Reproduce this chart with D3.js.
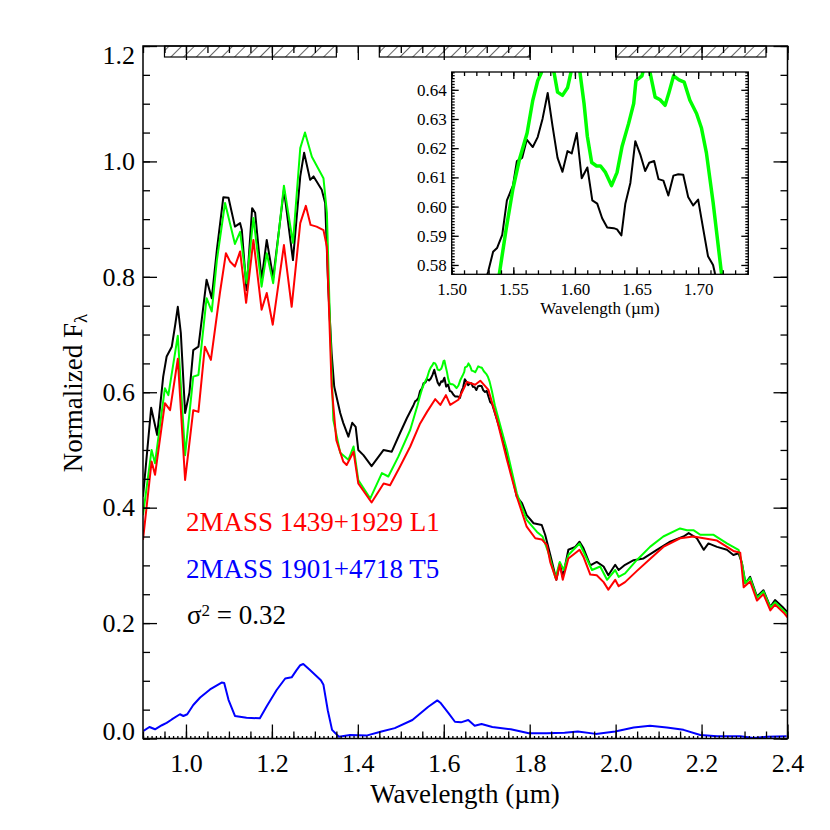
<!DOCTYPE html>
<html>
<head>
<meta charset="utf-8">
<script src="https://cdn.jsdelivr.net/npm/d3@7"></script>
<style>
    body { margin: 0; background: #fff; }
    text { font-family: "Liberation Serif", "Times New Roman", "DejaVu Serif", serif; }
</style>
</head>
<body>
<div id="spectrum-chart"></div>
<script>
/* * * * * * * * * * * * * * * *
 *   Spectral template fit     *
 * * * * * * * * * * * * * * * */

// target spectrum (black)
const blackWave = [0.900,0.919,0.933,0.947,0.955,0.967,0.975,0.981,0.988,0.998,1.008,1.017,1.029,1.033,1.048,1.060,1.072,1.087,1.099,1.114,1.126,1.130,1.141,1.154,1.161,1.176,1.188,1.203,1.228,1.249,1.266,1.275,1.289,1.297,1.316,1.324,1.331,1.339,1.345,1.359,1.366,1.378,1.387,1.395,1.401,1.413,1.432,1.460,1.479,1.498,1.514,
    1.5295,1.5336,1.5368,1.541,1.5448,1.5497,1.5529,1.5572,1.5609,1.5658,1.5698,1.5738,1.5779,1.5819,1.5859,1.5899,1.594,1.5974,1.6015,1.6055,1.6101,1.6141,1.6181,1.6221,1.6262,1.6315,1.6342,1.6377,1.6409,1.645,1.649,1.653,1.657,1.6603,1.6643,1.6678,1.6718,1.6758,1.6799,1.6839,1.6879,1.6919,1.696,1.700,1.704,1.708,1.7121,1.7134,
    1.731,1.754,1.770,1.782,1.793,1.809,1.828,1.836,1.848,1.862,1.870,1.877,1.890,1.906,1.916,1.925,1.941,1.956,1.972,1.983,1.999,2.007,2.022,2.042,2.065,2.096,2.127,2.158,2.170,2.189,2.205,2.216,2.236,2.259,2.274,2.286,2.294,2.302,2.313,2.329,2.344,2.360,2.371,2.391,2.400];
const blackFlux = [0.419,0.573,0.526,0.627,0.662,0.679,0.717,0.748,0.703,0.564,0.599,0.673,0.679,0.703,0.795,0.763,0.847,0.938,0.937,0.887,0.893,0.881,0.777,0.919,0.911,0.795,0.864,0.798,0.951,0.829,0.974,1.015,0.968,0.974,0.951,0.928,0.783,0.668,0.610,0.564,0.547,0.523,0.547,0.540,0.500,0.491,0.472,0.500,0.497,0.529,0.555,
    0.5776,0.5845,0.5858,0.5903,0.6021,0.6072,0.6156,0.6167,0.6229,0.6204,0.6238,0.6302,0.6389,0.6274,0.6167,0.6119,0.619,0.6182,0.6252,0.6097,0.6134,0.6021,0.601,0.596,0.5928,0.5926,0.5922,0.5901,0.601,0.6081,0.6224,0.6179,0.6122,0.615,0.6156,0.6094,0.6089,0.6038,0.6106,0.6111,0.6109,0.6033,0.6004,0.6024,0.5926,0.583,0.58,0.5776,
    0.535,0.471,0.419,0.408,0.387,0.373,0.370,0.353,0.318,0.275,0.304,0.280,0.327,0.332,0.341,0.330,0.300,0.306,0.298,0.283,0.301,0.292,0.301,0.309,0.312,0.327,0.341,0.350,0.356,0.347,0.327,0.338,0.332,0.327,0.318,0.321,0.304,0.269,0.280,0.246,0.257,0.228,0.240,0.226,0.219];

// best fit combination (green)
const greenWave = [0.900,0.920,0.928,0.951,0.959,0.981,0.998,1.017,1.029,1.048,1.060,1.072,1.091,1.114,1.126,1.141,1.157,1.176,1.188,1.203,1.228,1.249,1.266,1.277,1.293,1.320,1.328,1.335,1.343,1.359,1.378,1.390,1.401,1.429,1.456,1.471,1.494,1.522,
    1.5389,1.5443,1.5497,1.555,1.5612,1.5658,1.5698,1.5725,1.5765,1.580,1.5832,1.5859,1.5899,1.594,1.5966,1.5995,1.6015,1.6042,1.6074,1.6101,1.6136,1.6176,1.6208,1.6248,1.6297,1.6342,1.6383,1.6436,1.6477,1.6495,1.6544,1.6575,1.6611,1.6651,1.6691,1.6732,1.6764,1.6801,1.6844,1.6887,1.6933,1.6987,1.7027,1.7067,1.7121,1.7188,
    1.747,1.770,1.793,1.817,1.830,1.844,1.860,1.870,1.879,1.890,1.916,1.925,1.945,1.964,1.980,1.999,2.007,2.022,2.049,2.080,2.111,2.150,2.166,2.181,2.197,2.228,2.259,2.286,2.294,2.302,2.313,2.329,2.344,2.360,2.371,2.391,2.400];
const greenFlux = [0.387,0.500,0.477,0.607,0.595,0.698,0.491,0.627,0.630,0.763,0.740,0.829,0.928,0.857,0.878,0.789,0.902,0.783,0.841,0.789,0.958,0.859,1.023,1.050,1.008,0.971,0.911,0.725,0.552,0.495,0.483,0.506,0.448,0.416,0.460,0.454,0.488,0.535,
    0.5776,0.5926,0.6061,0.6162,0.6252,0.6364,0.6431,0.6456,0.651,0.650,0.6456,0.6392,0.6381,0.6407,0.6456,0.654,0.655,0.6456,0.6353,0.624,0.6151,0.6139,0.6139,0.6117,0.6072,0.6117,0.6207,0.6285,0.6353,0.6431,0.6448,0.650,0.6456,0.6375,0.6366,0.6347,0.6392,0.6448,0.6434,0.6426,0.6364,0.6319,0.6269,0.6184,0.6016,0.5776,
    0.500,0.425,0.379,0.358,0.350,0.321,0.278,0.306,0.292,0.318,0.338,0.324,0.292,0.298,0.275,0.292,0.280,0.286,0.309,0.332,0.350,0.364,0.361,0.361,0.353,0.353,0.338,0.327,0.304,0.269,0.278,0.244,0.255,0.227,0.236,0.222,0.215];

// 2MASS 1439+1929 L1 (red)
const redWave = [0.900,0.920,0.928,0.951,0.963,0.981,0.998,1.017,1.029,1.044,1.058,1.079,1.093,1.103,1.114,1.126,1.140,1.157,1.176,1.188,1.202,1.228,1.246,1.266,1.279,1.290,1.304,1.320,1.328,1.339,1.350,1.366,1.374,1.390,1.401,1.432,1.460,1.475,1.498,1.522,1.545,1.561,1.580,1.592,1.605,1.615,1.634,1.654,1.673,1.685,1.704,1.724,1.747,1.770,1.793,1.813,1.828,1.840,1.848,1.862,1.870,1.877,1.890,1.916,1.925,1.941,1.956,1.972,1.983,1.999,2.007,2.022,2.049,2.080,2.111,2.150,2.181,2.205,2.236,2.274,2.290,2.298,2.313,2.329,2.344,2.360,2.371,2.391,2.400];
const redFlux = [0.344,0.480,0.457,0.581,0.569,0.658,0.448,0.569,0.566,0.679,0.656,0.772,0.841,0.826,0.818,0.844,0.755,0.864,0.743,0.772,0.717,0.855,0.748,0.893,0.923,0.890,0.887,0.881,0.852,0.610,0.517,0.480,0.474,0.497,0.442,0.409,0.442,0.439,0.471,0.506,0.546,0.566,0.588,0.578,0.595,0.578,0.587,0.618,0.613,0.620,0.604,0.552,0.483,0.419,0.367,0.347,0.345,0.335,0.305,0.275,0.301,0.275,0.312,0.327,0.315,0.284,0.283,0.271,0.258,0.275,0.264,0.271,0.290,0.311,0.332,0.347,0.350,0.347,0.343,0.325,0.322,0.262,0.272,0.239,0.250,0.222,0.232,0.218,0.210];

// 2MASS 1901+4718 T5 (blue)
const blueWave = [0.901,0.915,0.928,0.944,0.955,0.967,0.986,0.994,1.003,1.017,1.033,1.056,1.083,1.089,1.099,1.114,1.141,1.172,1.188,1.211,1.231,1.246,1.257,1.266,1.273,1.288,1.314,1.320,1.330,1.340,1.356,1.382,1.420,1.455,1.486,1.527,1.564,1.585,1.592,1.611,1.626,1.640,1.657,1.672,1.688,1.713,1.756,1.798,1.839,1.881,1.912,1.954,1.999,2.042,2.080,2.119,2.158,2.197,2.236,2.290,2.321,2.351,2.398];
const blueFlux = [0.013,0.020,0.016,0.023,0.027,0.033,0.042,0.039,0.042,0.058,0.071,0.085,0.097,0.096,0.067,0.039,0.036,0.035,0.056,0.084,0.104,0.106,0.118,0.127,0.129,0.119,0.101,0.093,0.049,0.015,0.003,0.006,0.005,0.012,0.018,0.032,0.055,0.066,0.062,0.044,0.029,0.028,0.032,0.022,0.025,0.020,0.016,0.009,0.009,0.010,0.012,0.008,0.012,0.019,0.022,0.019,0.015,0.006,0.004,0.004,0.001,0.003,0.004];

// hatched wavelength bands along the top axis
const bandStart = [0.95, 1.45, 2.00];
const bandEnd = [1.35, 1.80, 2.35];

// tick values
const xTicks = [1.0, 1.2, 1.4, 1.6, 1.8, 2.0, 2.2, 2.4];
const yTicks = [0.0, 0.2, 0.4, 0.6, 0.8, 1.0, 1.2];
const insetXTicks = [1.50, 1.55, 1.60, 1.65, 1.70];
const insetYTicks = [0.58, 0.59, 0.60, 0.61, 0.62, 0.63, 0.64];

// legend labels
const labels = ["2MASS 1439+1929 L1", "2MASS 1901+4718 T5"];
const labelColors = ["#ff0000", "#0000ff"];
const sigmaValue = "0.32";


class SpectrumChart {
    constructor(_parentElement) {
        this.parentElement = _parentElement;
        this.initVis();
    }

    initVis() {
        let vis = this;

        vis.margin = { top: 46, right: 42.5, bottom: 91.5, left: 143 };
        vis.width = 830 - vis.margin.left - vis.margin.right;
        vis.height = 830 - vis.margin.top - vis.margin.bottom;

        vis.root = d3.select("#" + vis.parentElement)
            .append("svg")
            .attr("width", 830)
            .attr("height", 830);

        vis.svg = vis.root.append("g")
            .attr("transform", "translate(" + vis.margin.left + "," + vis.margin.top + ")");

        let defs = vis.root.append("defs");
        defs.append("clipPath").attr("id", "main-clip")
            .append("rect").attr("width", vis.width).attr("height", vis.height);

        // diagonal hatch
        let pat = defs.append("pattern")
            .attr("id", "hatch")
            .attr("patternUnits", "userSpaceOnUse")
            .attr("width", 9).attr("height", 9)
            .attr("patternTransform", "rotate(45)");
        pat.append("line")
            .attr("x1", 0).attr("y1", 0).attr("x2", 0).attr("y2", 9)
            .attr("stroke", "#000").attr("stroke-width", 1.2);

        vis.x = d3.scaleLinear().domain([0.9, 2.4]).range([0, vis.width]);
        vis.y = d3.scaleLinear().domain([0, 1.2]).range([vis.height, 0]);

        vis.line = d3.line()
            .x(d => vis.x(d[0]))
            .y(d => vis.y(d[1]));

        this.updateVis();
    }

    styleAxis(g, size) {
        g.attr("font-family", null);
        g.select(".domain").remove();
        g.selectAll("line").attr("stroke", "#000").attr("stroke-width", 1.3);
        g.selectAll("text")
            .attr("fill", "#000")
            .style("font-family", "'Liberation Serif', 'Times New Roman', serif")
            .style("font-size", size + "px");
    }

    updateVis() {
        let vis = this;
        let fmt1 = d3.format(".1f");
        let tinyX = d3.range(0.9, 2.4001, 0.01);
        let minorX = d3.range(0.9, 2.4001, 0.05);
        let minorY = d3.range(0, 1.2001, 0.05);

        // spectra
        let plot = vis.svg.append("g").attr("clip-path", "url(#main-clip)");
        let series = [
            [blackWave, blackFlux, "#000000"],
            [greenWave, greenFlux, "#00ff00"],
            [redWave, redFlux, "#ff0000"],
            [blueWave, blueFlux, "#0000ff"]
        ];
        series.forEach(s => {
            plot.append("path")
                .datum(d3.zip(s[0], s[1]))
                .attr("d", vis.line)
                .attr("fill", "none")
                .attr("stroke", s[2])
                .attr("stroke-width", 2)
                .attr("stroke-linejoin", "round");
        });

        // hatched bands
        vis.svg.selectAll(".band")
            .data(d3.zip(bandStart, bandEnd))
            .join("rect")
            .attr("class", "band")
            .attr("x", d => vis.x(d[0]))
            .attr("y", 0)
            .attr("width", d => vis.x(d[1]) - vis.x(d[0]))
            .attr("height", 11)
            .attr("fill", "url(#hatch)")
            .attr("stroke", "#000")
            .attr("stroke-width", 1.2);

        // tiny ticks along the bottom axis
        vis.svg.append("g").attr("transform", "translate(0," + vis.height + ")")
            .call(d3.axisBottom(vis.x).tickValues(tinyX).tickSize(-2.5).tickFormat(""))
            .call(g => vis.styleAxis(g, 10));

        // minor ticks on all four sides
        vis.svg.append("g").attr("transform", "translate(0," + vis.height + ")")
            .call(d3.axisBottom(vis.x).tickValues(minorX).tickSize(-7).tickFormat(""))
            .call(g => vis.styleAxis(g, 10));
        vis.svg.append("g")
            .call(d3.axisTop(vis.x).tickValues(minorX).tickSize(-7).tickFormat(""))
            .call(g => vis.styleAxis(g, 10));
        vis.svg.append("g")
            .call(d3.axisLeft(vis.y).tickValues(minorY).tickSize(-7).tickFormat(""))
            .call(g => vis.styleAxis(g, 10));
        vis.svg.append("g").attr("transform", "translate(" + vis.width + ",0)")
            .call(d3.axisRight(vis.y).tickValues(minorY).tickSize(-7).tickFormat(""))
            .call(g => vis.styleAxis(g, 10));

        // major ticks + labels
        vis.svg.append("g").attr("transform", "translate(0," + vis.height + ")")
            .call(d3.axisBottom(vis.x).tickValues(xTicks).tickSizeInner(-14).tickSizeOuter(0)
                .tickPadding(15).tickFormat(fmt1))
            .call(g => vis.styleAxis(g, 26));
        vis.svg.append("g")
            .call(d3.axisTop(vis.x).tickValues(xTicks).tickSizeInner(-14).tickSizeOuter(0).tickFormat(""))
            .call(g => vis.styleAxis(g, 26));
        let yAx = vis.svg.append("g")
            .call(d3.axisLeft(vis.y).tickValues(yTicks).tickSizeInner(-14).tickSizeOuter(0)
                .tickPadding(8).tickFormat(fmt1))
            .call(g => vis.styleAxis(g, 26));
        // end labels pulled in like the original
        yAx.selectAll("text").attr("dy", d => d === 1.2 ? "0.68em" : (d === 0 ? "0.05em" : "0.32em"));
        vis.svg.append("g").attr("transform", "translate(" + vis.width + ",0)")
            .call(d3.axisRight(vis.y).tickValues(yTicks).tickSizeInner(-14).tickSizeOuter(0).tickFormat(""))
            .call(g => vis.styleAxis(g, 26));

        // frame
        vis.svg.append("rect")
            .attr("width", vis.width).attr("height", vis.height)
            .attr("fill", "none").attr("stroke", "#000").attr("stroke-width", 1.5);

        // axis titles
        vis.root.append("text")
            .attr("x", 465).attr("y", 803)
            .attr("text-anchor", "middle")
            .style("font-size", "27px")
            .text("Wavelength (\u00b5m)");

        let yl = vis.root.append("text")
            .attr("transform", "translate(82,393) rotate(-90)")
            .attr("text-anchor", "middle")
            .style("font-size", "27px");
        yl.append("tspan").text("Normalized F");
        yl.append("tspan").attr("baseline-shift", "-25%").style("font-size", "19px").text("\u03bb");

        // labels
        labels.forEach((t, i) => {
            vis.root.append("text")
                .attr("x", 186).attr("y", 531 + i * 47)
                .attr("fill", labelColors[i])
                .style("font-size", "27px")
                .text(t);
        });
        let sig = vis.root.append("text")
            .attr("x", 187).attr("y", 624)
            .style("font-size", "27px");
        sig.append("tspan").text("\u03c3");
        sig.append("tspan").attr("baseline-shift", "45%").style("font-size", "17px").text("2");
        sig.append("tspan").text(" = " + sigmaValue);

        this.drawInset();
    }

    drawInset() {
        let vis = this;
        let fmt2 = d3.format(".2f");

        let left = 451.7 - vis.margin.left, top = 72 - vis.margin.top;
        let w = 296.6, h = 202.3;

        let g = vis.svg.append("g").attr("transform", "translate(" + left + "," + top + ")");
        g.append("rect").attr("width", w).attr("height", h).attr("fill", "#fff");

        vis.root.select("defs").append("clipPath").attr("id", "inset-clip")
            .append("rect").attr("width", w).attr("height", h);

        let ix = d3.scaleLinear().domain([1.5, 1.7407]).range([0, w]);
        let iy = d3.scaleLinear().domain([0.5768, 0.6461]).range([h, 0]);
        let iline = d3.line().x(d => ix(d[0])).y(d => iy(d[1]));

        let p = g.append("g").attr("clip-path", "url(#inset-clip)");
        p.append("path")
            .datum(d3.zip(blackWave, blackFlux))
            .attr("d", iline)
            .attr("fill", "none").attr("stroke", "#000").attr("stroke-width", 2)
            .attr("stroke-linejoin", "round");
        p.append("path")
            .datum(d3.zip(greenWave, greenFlux))
            .attr("d", iline)
            .attr("fill", "none").attr("stroke", "#00ff00").attr("stroke-width", 3.5)
            .attr("stroke-linejoin", "round");

        let minorX = d3.range(1.5, 1.7401, 0.01);
        let minorY = d3.range(0.577, 0.6461, 0.001);

        g.append("g").attr("transform", "translate(0," + h + ")")
            .call(d3.axisBottom(ix).tickValues(minorX).tickSize(-4).tickFormat(""))
            .call(a => vis.styleAxis(a, 10));
        g.append("g")
            .call(d3.axisTop(ix).tickValues(minorX).tickSize(-4).tickFormat(""))
            .call(a => vis.styleAxis(a, 10));
        g.append("g")
            .call(d3.axisLeft(iy).tickValues(minorY).tickSize(-3).tickFormat(""))
            .call(a => vis.styleAxis(a, 10));
        g.append("g").attr("transform", "translate(" + w + ",0)")
            .call(d3.axisRight(iy).tickValues(minorY).tickSize(-3).tickFormat(""))
            .call(a => vis.styleAxis(a, 10));

        g.append("g").attr("transform", "translate(0," + h + ")")
            .call(d3.axisBottom(ix).tickValues(insetXTicks).tickSizeInner(-7).tickSizeOuter(0)
                .tickPadding(9).tickFormat(fmt2))
            .call(a => vis.styleAxis(a, 17));
        g.append("g")
            .call(d3.axisTop(ix).tickValues(insetXTicks).tickSizeInner(-7).tickSizeOuter(0).tickFormat(""))
            .call(a => vis.styleAxis(a, 17));
        g.append("g")
            .call(d3.axisLeft(iy).tickValues(insetYTicks).tickSizeInner(-7).tickSizeOuter(0)
                .tickPadding(5).tickFormat(fmt2))
            .call(a => vis.styleAxis(a, 17));
        g.append("g").attr("transform", "translate(" + w + ",0)")
            .call(d3.axisRight(iy).tickValues(insetYTicks).tickSizeInner(-7).tickSizeOuter(0).tickFormat(""))
            .call(a => vis.styleAxis(a, 17));

        g.append("rect").attr("width", w).attr("height", h)
            .attr("fill", "none").attr("stroke", "#000").attr("stroke-width", 1.3);

        g.append("text")
            .attr("x", w / 2).attr("y", h + 40)
            .attr("text-anchor", "middle")
            .style("font-size", "17px")
            .text("Wavelength (\u00b5m)");
    }
}

new SpectrumChart("spectrum-chart");
</script>
</body>
</html>
